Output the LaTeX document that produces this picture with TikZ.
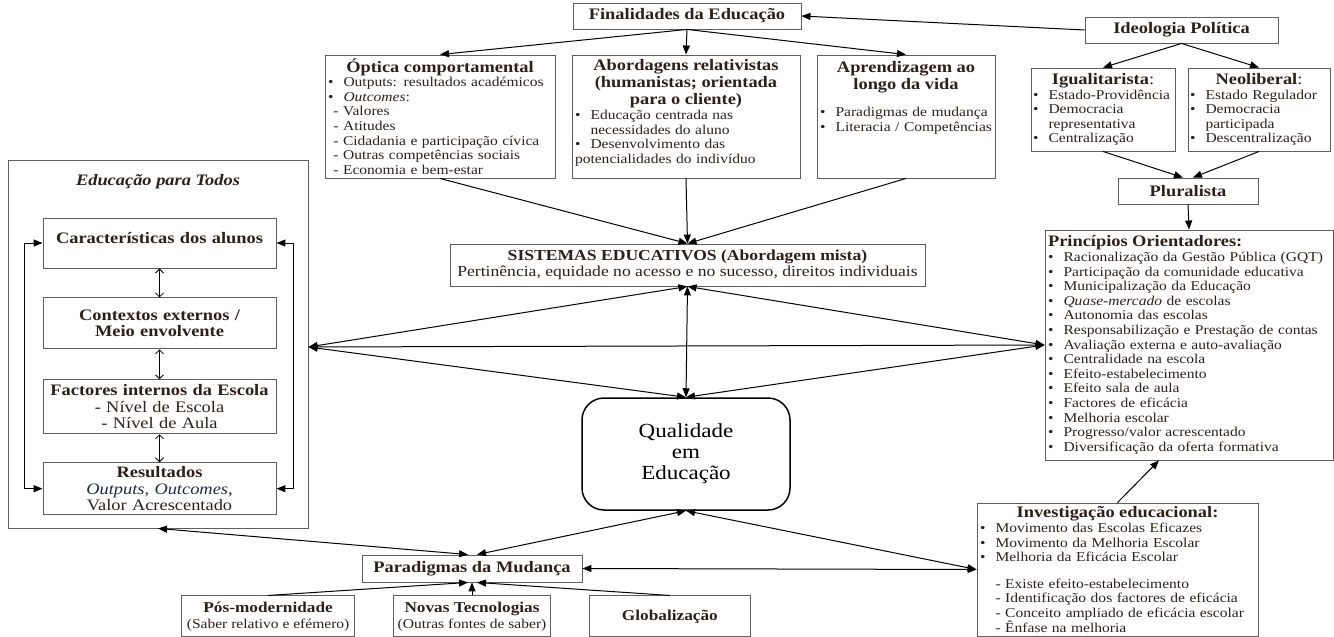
\documentclass[tikz,border=0pt]{standalone}
\usepackage{fontspec}
\setmainfont{Liberation Serif}[FakeStretch=1.15]
\usetikzlibrary{arrows.meta,positioning,calc}

\definecolor{bodytext}{HTML}{2E2018}
\definecolor{bluetext}{HTML}{1C2A4A}
\definecolor{boxline}{HTML}{5F5F5F}

\newcommand{\bodysize}{\fontsize{13.5}{14.6}\selectfont}
\newcommand{\titlesize}{\fontsize{16}{17}\selectfont\bfseries}
\newcommand{\innersize}{\fontsize{16}{16.5}\selectfont}
\newcommand{\bul}{\makebox[1.15em][l]{•}}
\newcommand{\ind}{\hspace*{1.15em}}

\begin{document}
\begin{tikzpicture}[x=1pt, y=-1pt,
    every node/.style={font=\bodysize, text=bodytext},
    box/.style={draw=boxline, line width=0.9pt, inner sep=3pt},
    link/.style={-{Triangle[length=9pt,width=7pt]}, line width=1pt},
    dlink/.style={{Triangle[length=9pt,width=7pt]}-{Triangle[length=9pt,width=7pt]}, line width=1pt},
    vlink/.style={{Straight Barb[length=4pt,width=8pt]}-{Straight Barb[length=4pt,width=8pt]}, line width=0.8pt}]
    \useasboundingbox (0,0) rectangle (1334,637);

    % Finalidades and the three approaches
    \node[box, minimum width=228pt, minimum height=26pt, font=\titlesize] (fin) at (687,16) {Finalidades da Educação};
    \node[box, text width=224pt, minimum height=123pt, align=left] (opt) at (440,116.5) {{\centering\titlesize Óptica comportamental\par}
        \bul Outputs: resultados académicos\\
        \bul \textit{Outcomes}:\\
        \hspace*{0.4em}- Valores\\
        \hspace*{0.4em}- Atitudes\\
        \hspace*{0.4em}- Cidadania e participação cívica\\
        \hspace*{0.4em}- Outras competências sociais\\
        \hspace*{0.4em}- Economia e bem-estar};
    \node[box, text width=222pt, minimum height=123pt, align=left] (abo) at (686,116.5) {{\centering\titlesize Abordagens relativistas\\(humanistas; orientada\\para o cliente)\par}
        \bul Educação centrada nas\\
        \ind necessidades do aluno\\
        \bul Desenvolvimento das\\
        potencialidades do indivíduo\rule[-10pt]{0pt}{0pt}};
    \node[box, text width=172pt, minimum height=123pt, align=left] (apr) at (906,116.5) {{\centering\titlesize Aprendizagem ao\\longo da vida\par}\vspace{12pt}
        \bul Paradigmas de mudança\\
        \bul Literacia / Competências\rule[-40pt]{0pt}{0pt}};

    % Ideologia politica
    \node[box, minimum width=193pt, minimum height=26pt, font=\titlesize] (ide) at (1181.5,30) {Ideologia Política};
    \node[box, text width=140pt, inner sep=2pt, minimum height=83pt, align=left] (igu) at (1103,109.5) {{\centering\titlesize Igualitarista\mdseries:\par}
        \bul Estado-Providência\\
        \bul Democracia\\
        \ind representativa\\
        \bul Centralização};
    \node[box, text width=138pt, inner sep=2pt, minimum height=83pt, align=left] (neo) at (1259,109.5) {{\centering\titlesize Neoliberal\mdseries:\par}
        \bul Estado Regulador\\
        \bul Democracia\\
        \ind participada\\
        \bul Descentralização};
    \node[box, minimum width=140pt, minimum height=26pt, font=\titlesize] (plu) at (1188,191) {Pluralista};
    \node[box, text width=282pt, minimum height=230pt, align=left] (pri) at (1189,345) {{\titlesize Princípios Orientadores:\par}
        \bul Racionalização da Gestão Pública (GQT)\\
        \bul Participação da comunidade educativa\\
        \bul Municipalização da Educação\\
        \bul \textit{Quase-mercado} de escolas\\
        \bul Autonomia das escolas\\
        \bul Responsabilização e Prestação de contas\\
        \bul Avaliação externa e auto-avaliação\\
        \bul Centralidade na escola\\
        \bul Efeito-estabelecimento\\
        \bul Efeito sala de aula\\
        \bul Factores de eficácia\\
        \bul Melhoria escolar\\
        \bul Progresso/valor acrescentado\\
        \bul Diversificação da oferta formativa};

    % Sistemas and Qualidade
    \node[box, minimum width=475pt, minimum height=42pt, align=center, font=\fontsize{15.3}{16.5}\selectfont] (sis) at (687.5,265) {\textbf{SISTEMAS EDUCATIVOS (Abordagem mista)}\\Pertinência, equidade no acesso e no sucesso, direitos individuais};
    \node[draw=black, line width=1.5pt, rounded corners=22pt, minimum width=208pt, minimum height=112pt, align=center, text=black, font=\fontsize{20}{21}\selectfont] (qua) at (686,454) {Qualidade\\em\\Educação};

    % Educacao para Todos
    \node[box, minimum width=300pt, minimum height=368pt] (ept) at (158,344) {};
    \node[font=\titlesize\itshape, below=11pt of ept.north] (ept-title) {Educação para Todos};
    \node[box, text width=227pt, minimum height=50pt, align=center, font=\innersize] (car) at (159.5,243) {\textbf{Características dos alunos}\rule[-10pt]{0pt}{0pt}};
    \node[box, text width=227pt, minimum height=51pt, align=center, font=\innersize\bfseries, below=29pt of car] (con) {Contextos externos /\\Meio envolvente};
    \node[box, text width=227pt, minimum height=54pt, align=center, font=\innersize, below=30pt of con] (fac) {\textbf{Factores internos da Escola}\\- Nível de Escola\\- Nível de Aula};
    \node[box, text width=227pt, minimum height=52pt, align=center, font=\innersize, below=28pt of fac] (res) {\textbf{Resultados}\\\textcolor{bluetext}{\textit{Outputs}, \textit{Outcomes}},\\Valor Acrescentado};

    % Paradigmas and Investigacao
    \node[box, minimum width=220pt, minimum height=27pt, font=\titlesize] (par) at (472,568.5) {Paradigmas da Mudança};
    \node[box, minimum width=157pt, minimum height=41pt, align=center, font=\fontsize{15}{16}\selectfont, below=13pt of par] (nov) {\textbf{Novas Tecnologias}\\{\bodysize(Outras fontes de saber)}};
    \node[box, minimum width=173pt, minimum height=41pt, align=center, font=\fontsize{15}{16}\selectfont, left=38pt of nov] (pos) {\textbf{Pós-modernidade}\\{\bodysize(Saber relativo e efémero)}};
    \node[box, minimum width=161pt, minimum height=41pt, font=\fontsize{15}{16}\selectfont\bfseries, right=38pt of nov] (glo) {Globalização};
    \node[box, text width=275pt, minimum height=133pt, align=left] (inv) at (1117.5,569.5) {{\centering\titlesize Investigação educacional:\par}
        \bul Movimento das Escolas Eficazes\\
        \bul Movimento da Melhoria Escolar\\
        \bul Melhoria da Eficácia Escolar\\[12pt]
        \ind- Existe efeito-estabelecimento\\
        \ind- Identificação dos factores de eficácia\\
        \ind- Conceito ampliado de eficácia escolar\\
        \ind- Ênfase na melhoria};

    % connectors at the top
    \draw[link] (ide.west) -- (fin.east);
    \foreach \n in {opt,abo,apr} \draw[link] (fin.south) -- (\n.north);
    \foreach \n in {opt,abo,apr} \draw[link] (\n.south) -- (sis.north);
    \draw[link] (ide.south) -- (igu.north);
    \draw[link] (ide.south) -- (neo.north);
    \draw[link] (igu.south) -- ([xshift=-5pt]plu.north);
    \draw[link] (neo.south) -- ([xshift=5pt]plu.north);
    \draw[link] (plu.south) -- (pri.north);
    \draw[link] (inv.north) -- ([xshift=-30pt]pri.south);

    % connectors in the middle
    \coordinate (lft) at ([yshift=-3pt]ept.east);
    \coordinate (rgt) at (pri.west);
    \draw[dlink] (lft) -- (rgt);
    \draw[dlink] (lft) -- (sis.south);
    \draw[dlink] (lft) -- (qua.north);
    \draw[dlink] (rgt) -- (sis.south);
    \draw[dlink] (rgt) -- (qua.north);
    \draw[dlink] (sis.south) -- (qua.north);

    % inside Educacao para Todos
    \draw[vlink] (car.south) -- (con.north);
    \draw[vlink] (con.south) -- (fac.north);
    \draw[vlink] (fac.south) -- (res.north);
    \draw[dlink] (car.west) -- ++(-18,0) |- (res.west);
    \draw[dlink] (car.east) -- ++(17,0) |- (res.east);

    % connectors at the bottom
    \draw[dlink] (ept.south) -- ([xshift=-4pt]par.north);
    \draw[dlink] (qua.south) -- ([xshift=5pt]par.north);
    \draw[dlink] (qua.south) -- (inv.west);
    \draw[dlink] (inv.west) -- (par.east);
    \draw[link] (pos.north) -- ([xshift=-4pt]par.south);
    \draw[link] (nov.north) -- (par.south);
    \draw[link] (glo.north) -- ([xshift=5pt]par.south);
\end{tikzpicture}
\end{document}
